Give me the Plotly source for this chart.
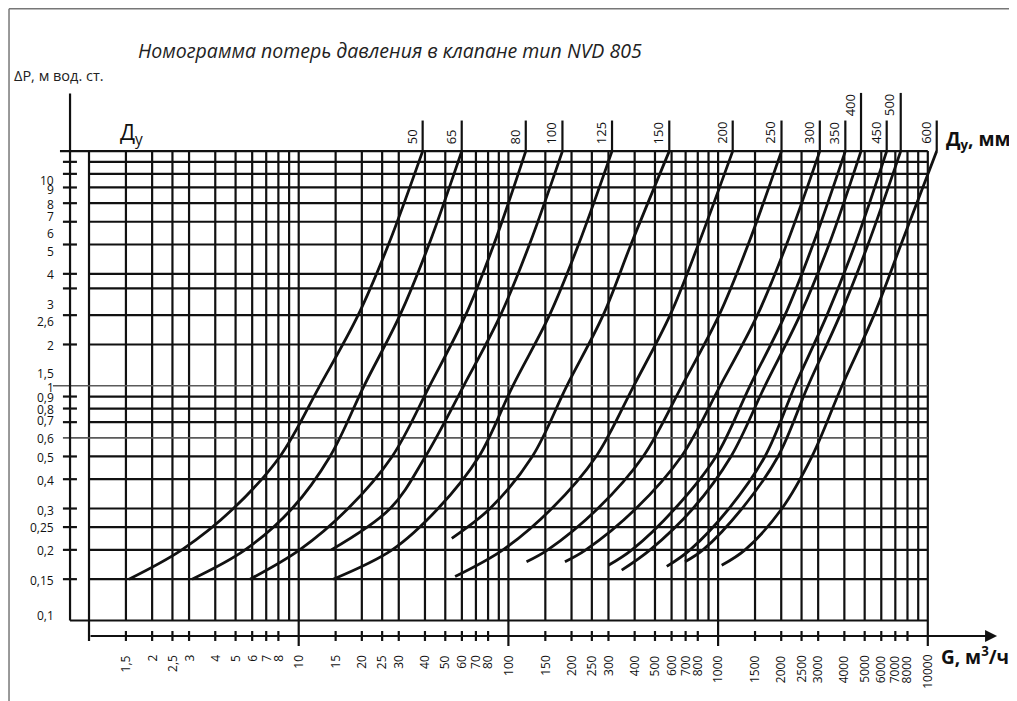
import numpy as np
import plotly.graph_objects as go

# Номограмма потерь давления, клапан NVD 805
# x: расход G, м3/ч (log), y: потери dP, м вод. ст. (log)

# vertical grid lines, G
g_lines = [1, 1.5, 2, 2.5, 3, 4, 5, 6, 7, 8, 9,
           10, 15, 20, 25, 30, 40, 50, 60, 70, 80, 90,
           100, 150, 200, 250, 300, 400, 500, 600, 700, 800, 900,
           1000, 1500, 2000, 2500, 3000, 4000, 5000, 6000, 7000, 8000, 9000,
           10000]
g_decades = [10, 100, 1000, 10000]
g_ticks = [1.5, 2, 2.5, 3, 4, 5, 6, 7, 8, 10, 15, 20, 25, 30, 40, 50, 60, 70, 80,
           100, 150, 200, 250, 300, 400, 500, 600, 700, 800,
           1000, 1500, 2000, 2500, 3000, 4000, 5000, 6000, 7000, 8000, 10000]

# horizontal grid lines, dP
dp_lines = [0.1, 0.15, 0.2, 0.25, 0.3, 0.4, 0.5, 0.6, 0.7, 0.8, 0.9, 1,
            1.5, 2, 2.6, 3, 4, 5, 6, 7, 8, 9, 10]
dp_grey = [0.6, 1]
dp_ticks = [0.1, 0.15, 0.2, 0.25, 0.3, 0.4, 0.5, 0.6, 0.7, 0.8, 0.9, 1,
            1.5, 2, 2.6, 3, 4, 5, 6, 7, 8, 9, 10]
# the scan prints the upper labels lower than their lines; level where each sits
dp_label_at = [0.105, 0.148, 0.198, 0.248, 0.293, 0.394, 0.497, 0.595, 0.715,
               0.796, 0.89, 0.988, 1.123, 1.492, 1.876, 2.231, 2.966, 3.717,
               4.435, 5.254, 5.952, 6.829, 7.48]

# nominal diameters Ду, мм
dy = [50, 65, 80, 100, 125, 150, 200, 250, 300, 350, 400, 450, 500, 600]
dy_tall = [400, 500]

# curves: (G list, dP list)
curves = {
    50: ([1.55, 2.77, 4.88, 8.14, 12.6, 19.2, 26.8, 39.0],
         [0.15, 0.2, 0.3, 0.5, 1, 2, 4, 10]),
    65: ([3.1, 5.55, 9.3, 14.1, 20.5, 30.4, 41.8, 59.9],
         [0.15, 0.2, 0.3, 0.5, 1, 2, 4, 10]),
    80: ([5.86, 10.1, 17.2, 27.9, 42.1, 62.5, 85.2, 121],
         [0.15, 0.2, 0.3, 0.5, 1, 2, 4, 10]),
    100: ([14.3, 27.3, 40.2, 61.2, 91.7, 126, 181],
          [0.2, 0.3, 0.5, 1, 2, 4, 10]),
    125: ([14.6, 27.9, 46.2, 72.4, 105, 157, 216, 312],
          [0.15, 0.2, 0.3, 0.5, 1, 2, 4, 10]),
    150: ([53.7, 81.7, 130, 190, 283, 384, 585],
          [0.224, 0.3, 0.5, 1, 2, 4, 10]),
    200: ([55.7, 94.2, 161, 262, 396, 590, 805, 1174],
          [0.154, 0.2, 0.3, 0.5, 1, 2, 4, 10]),
    250: ([122, 154, 267, 439, 672, 1011, 1391, 2006],
          [0.178, 0.2, 0.3, 0.5, 1, 2, 4, 10]),
    300: ([186, 234, 406, 668, 1023, 1539, 2120, 3055],
          [0.178, 0.2, 0.3, 0.5, 1, 2, 4, 10]),
    350: ([300, 388, 623, 977, 1419, 2084, 2835, 4043],
          [0.172, 0.2, 0.3, 0.5, 1, 2, 4, 10]),
    400: ([347, 474, 759, 1152, 1673, 2458, 3380, 4803],
          [0.164, 0.2, 0.3, 0.5, 1, 2, 4, 10]),
    450: ([569, 735, 1127, 1673, 2326, 3306, 4496, 6368],
          [0.17, 0.2, 0.3, 0.5, 1, 2, 4, 10]),
    500: ([695, 847, 1300, 1931, 2684, 3814, 5186, 7428],
          [0.178, 0.2, 0.3, 0.5, 1, 2, 4, 10]),
    600: ([1040, 1344, 2017, 2804, 3897, 5538, 7451, 11030],
          [0.172, 0.2, 0.3, 0.5, 1, 2, 4, 10]),
}


def comma(v):
    return str(v).replace(".", ",")


INK = "#111111"
GREY = "#5a5a5a"
FONT = "Open Sans"

# levels used for axes furniture (data units)
G_MIN, G_MAX = 1, 10000
DP_MIN, DP_MAX = 0.1, 10
G_YAXIS = 0.812          # left dP axis
DP_XAXIS = 0.0859        # bottom G axis
G_ARROW_END = 21400
DP_YAXIS_TOP = 17.6
DP_TICK_HI, DP_TICK_LO, DP_DECADE_LO = 0.0902, 0.0818, 0.0779
G_TICK_L, G_TICK_R = 0.751, 0.876
DP_XLAB = 0.0727
G_YLAB = 0.696
DP_DY_SHORT, DP_DY_TALL = 13.5, 17.7
DP_DYLAB_SHORT, DP_DYLAB_TALL = 10.5, 13.8


def segs(pairs):
    xs, ys = [], []
    for (x0, y0), (x1, y1) in pairs:
        xs += [x0, x1, None]
        ys += [y0, y1, None]
    return xs, ys


fig = go.Figure()


def add_lines(pairs, width=2, color=INK):
    xs, ys = segs(pairs)
    fig.add_trace(go.Scatter(x=xs, y=ys, mode="lines", hoverinfo="skip",
                             line=dict(color=color, width=width)))


# vertical grid
vpairs = []
for g in g_lines:
    lo = DP_DECADE_LO if g in g_decades else DP_MIN
    if g == 1:
        lo = DP_TICK_LO
    vpairs.append(((g, lo), (g, DP_MAX)))
add_lines(vpairs, 2.2)

# horizontal grid
hpairs = []
for d in dp_lines:
    if d in dp_grey:
        continue
    left = G_MIN
    if d == DP_MAX:
        left = 0.727
    if d == DP_MIN:
        left = G_YAXIS
    hpairs.append(((left, d), (G_MAX, d)))
add_lines(hpairs, 2.2)
add_lines([((0.673, 1), (G_MAX, 1)), ((G_TICK_L, 0.6), (G_MAX, 0.6))], 1.6, GREY)

# dP axis with ticks
add_lines([((G_YAXIS, DP_MIN), (G_YAXIS, DP_YAXIS_TOP))], 2.2)
add_lines([((G_TICK_L, d), (G_TICK_R, d)) for d in dp_ticks
           if d not in (DP_MIN, DP_MAX, 1, 0.6)], 2.2)

# G axis ticks
add_lines([((g, DP_TICK_LO), (g, DP_TICK_HI)) for g in g_ticks
           if g not in g_decades], 2.2)

# Dу curves and their marker lines above the grid
for d in dy:
    gx, dpy = curves[d]
    fig.add_trace(go.Scatter(x=gx, y=dpy, mode="lines", hoverinfo="skip",
                             line=dict(color=INK, width=2.8, shape="spline",
                                       smoothing=1.0)))
    top = DP_DY_TALL if d in dy_tall else DP_DY_SHORT
    add_lines([((gx[-1], DP_MAX), (gx[-1], top))], 2.2)

ann = []
# G axis arrow
ann.append(dict(x=np.log10(G_ARROW_END), y=np.log10(DP_XAXIS), ax=np.log10(1),
                ay=np.log10(DP_XAXIS), xref="x", yref="y", axref="x", ayref="y",
                text="", showarrow=True, arrowhead=2, arrowsize=1.2,
                arrowwidth=2, arrowcolor=INK))

for g in g_ticks:
    ann.append(dict(x=np.log10(g), y=np.log10(DP_XLAB), xref="x", yref="y",
                    text=comma(g), textangle=-90, showarrow=False,
                    xanchor="center", yanchor="top",
                    font=dict(family=FONT, size=12, color=INK)))

for d, at in zip(dp_ticks, dp_label_at):
    ann.append(dict(x=np.log10(G_YLAB), y=np.log10(at), xref="x", yref="y",
                    text=comma(d), showarrow=False, xanchor="right",
                    yanchor="middle",
                    font=dict(family=FONT, size=12, color=INK)))

for d in dy:
    gx, _ = curves[d]
    lab = DP_DYLAB_TALL if d in dy_tall else DP_DYLAB_SHORT
    ann.append(dict(x=np.log10(gx[-1]), y=np.log10(lab), xref="x", yref="y",
                    text=str(d), textangle=-90, showarrow=False, xshift=-11,
                    xanchor="center", yanchor="bottom",
                    font=dict(family=FONT, size=13, color=INK)))

ann += [
    dict(x=0.3756, y=0.940, xref="paper", yref="paper", showarrow=False,
         xanchor="center", yanchor="middle",
         text="<i>Номограмма потерь давления в клапане тип NVD 805</i>",
         font=dict(family=FONT, size=19.5, color="#222")),
    dict(x=0.004, y=0.9044, xref="paper", yref="paper", showarrow=False,
         xanchor="left", yanchor="middle", text="ΔP, м вод. ст.",
         font=dict(family=FONT, size=14.5, color="#222")),
    dict(x=0.121, y=0.8217, xref="paper", yref="paper", showarrow=False,
         xanchor="center", yanchor="middle",
         text="Д<sub>у</sub>", font=dict(family=FONT, size=22, color=INK)),
    dict(x=0.9538, y=0.8117, xref="paper", yref="paper", showarrow=False,
         xanchor="center", yanchor="middle",
         text="<b>Д<sub>у</sub>, мм</b>", font=dict(family=FONT, size=19, color=INK)),
    dict(x=0.9508, y=0.0756, xref="paper", yref="paper", showarrow=False,
         xanchor="center", yanchor="middle",
         text="<b>G, м<sup>3</sup>/ч</b>", font=dict(family=FONT, size=19, color=INK)),
]

frame = dict(type="line", xref="paper", yref="paper",
             line=dict(color="#777", width=1.5))
shapes = [
    dict(frame, x0=0.001, x1=0.001, y0=0, y1=0.999),
    dict(frame, x0=0.001, x1=0.9872, y0=0.999, y1=0.999),
    dict(frame, x0=0.9872, x1=0.9872, y0=0.999, y1=0.829),
]

fig.update_layout(
    width=1017, height=701,
    margin=dict(l=0, r=0, t=0, b=0),
    paper_bgcolor="white", plot_bgcolor="white",
    showlegend=False,
    annotations=ann, shapes=shapes,
    xaxis=dict(type="log", range=[-0.3863, 4.4635], visible=False),
    yaxis=dict(type="log", range=[-1.3771, 1.6098], visible=False),
)

fig.write_html("out.html")
